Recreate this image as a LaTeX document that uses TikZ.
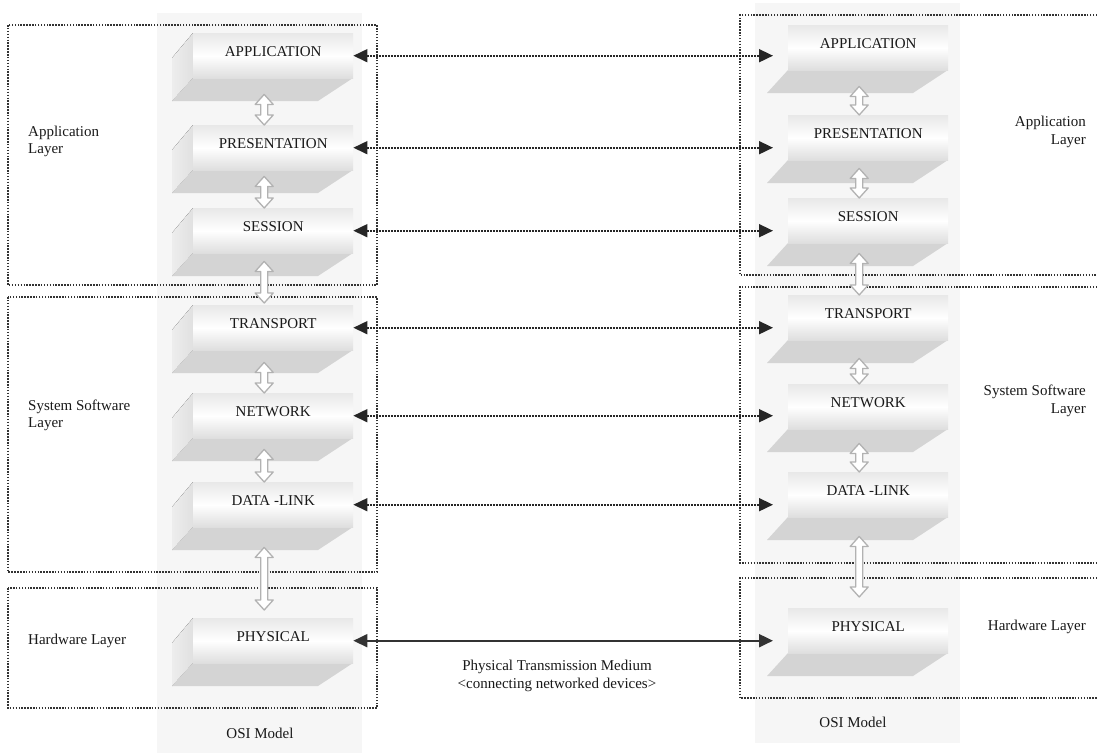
\documentclass[tikz,border=0pt]{standalone}
\usepackage{fontspec}
\setmainfont{Liberation Serif}
\usetikzlibrary{arrows.meta,calc}

\tikzset{
  panel/.style={fill=gray!7, draw=none},
  layerbox/.style={draw=black!80, line width=1.6pt, dash pattern=on 1.5pt off 1.4pt},
  front/.style={rectangle, minimum width=160pt, minimum height=45pt, inner sep=0pt,
    top color=gray!18, bottom color=gray!26, middle color=white,
    text=black!90, font=\fontsize{15}{18}\selectfont, text height=9.6pt, text depth=8pt},
  underside/.style={fill=gray!34},
  sideface/.style={left color=gray!14, right color=gray!24},
  peer/.style={draw=black!85, line width=1.7pt, dash pattern=on 1.6pt off 1.4pt,
    {Triangle[length=14pt,width=13pt]}-{Triangle[length=14pt,width=13pt]}},
  medium/.style={draw=black!80, line width=2pt,
    {Triangle[length=14pt,width=13pt]}-{Triangle[length=14pt,width=13pt]}},
  hollow/.style={draw=gray!60, fill=white, line width=1.3pt, line join=round},
  caption/.style={font=\fontsize{15}{17.5}\selectfont, text=black!90, inner sep=0pt},
}

% one layer slab: #1 name, #2 left x of front face, #3 top y, #4 text, #5 = 1 draws the left face
\newcommand\osiblock[5]{%
  \ifnum#5=1
    \fill[sideface] (#2,#3) -- (#2-21,#3+25) -- (#2-21,#3+68) -- (#2,#3+45) -- cycle;
  \fi
  \fill[underside] (#2,#3+45) -- (#2+160,#3+45) -- (#2+125,#3+68) -- (#2-21,#3+68) -- cycle;
  \node[front, anchor=north west] (#1) at (#2,#3) {#4};
}

% hollow double arrow between two stacked slabs: #1 upper, #2 lower, #3 gap below upper, #4 gap above lower
\newcommand\hollowlink[4]{%
  \draw[hollow] let \p1=([xshift=-9pt,yshift=-#3pt]#1.south),
                    \p2=([xshift=-9pt,yshift=#4pt]#2.north) in
    (\x1,\y1) -- (\x1+9pt,\y1-10pt) -- (\x1+3.5pt,\y1-10pt) -- (\x1+3.5pt,\y2+10pt)
    -- (\x1+9pt,\y2+10pt) -- (\x1,\y2) -- (\x1-9pt,\y2+10pt) -- (\x1-3.5pt,\y2+10pt)
    -- (\x1-3.5pt,\y1-10pt) -- (\x1-9pt,\y1-10pt) -- cycle;
}

\begin{document}
\begin{tikzpicture}[x=1pt,y=-1pt]
\useasboundingbox (0,0) rectangle (1097,753);
\fill[white] (0,0) rectangle (1097,753);

% stack backgrounds
\fill[panel] (157,13) rectangle (362,753);
\fill[panel] (755,3) rectangle (960,743);

% layer groupings, left host
\draw[layerbox] (8,25) rectangle (377,285);
\draw[layerbox] (8,297) rectangle (377,572);
\draw[layerbox] (8,588) rectangle (377,708);

% layer groupings, right host (open towards the right edge)
\draw[layerbox] (1100,15) -- (740,15) -- (740,275) -- (1100,275);
\draw[layerbox] (1100,287) -- (740,287) -- (740,563) -- (1100,563);
\draw[layerbox] (1100,578) -- (740,578) -- (740,698) -- (1100,698);

% left stack
\osiblock{appL}{193}{33}{APPLICATION}{1}
\osiblock{preL}{193}{125}{PRESENTATION}{1}
\osiblock{sesL}{193}{208}{SESSION}{1}
\osiblock{traL}{193}{305}{TRANSPORT}{1}
\osiblock{netL}{193}{393}{NETWORK}{1}
\osiblock{dlkL}{193}{482}{DATA -LINK}{1}
\osiblock{phyL}{193}{618}{PHYSICAL}{1}

% right stack
\osiblock{appR}{788}{25}{APPLICATION}{0}
\osiblock{preR}{788}{115}{PRESENTATION}{0}
\osiblock{sesR}{788}{198}{SESSION}{0}
\osiblock{traR}{788}{295}{TRANSPORT}{0}
\osiblock{netR}{788}{384}{NETWORK}{0}
\osiblock{dlkR}{788}{472}{DATA -LINK}{0}
\osiblock{phyR}{788}{608}{PHYSICAL}{0}

% interfaces between adjacent layers
\hollowlink{appL}{preL}{16}{0}
\hollowlink{preL}{sesL}{6}{0}
\hollowlink{sesL}{traL}{8}{2}
\hollowlink{traL}{netL}{12}{0}
\hollowlink{netL}{dlkL}{11}{0}
\hollowlink{dlkL}{phyL}{20}{8}

\hollowlink{appR}{preR}{16}{0}
\hollowlink{preR}{sesR}{8}{0}
\hollowlink{sesR}{traR}{10}{0}
\hollowlink{traR}{netR}{18}{0}
\hollowlink{netR}{dlkR}{14}{0}
\hollowlink{dlkR}{phyR}{19}{11}

% peer-to-peer communication
\foreach \l in {app,pre,ses,tra,net,dlk}{
  \draw[peer] (\l L.east) -- ($(\l L.east -| \l R.west)+(-15pt,0)$);
}
\draw[medium] (phyL.east) -- ($(phyL.east -| phyR.west)+(-15pt,0)$);

% captions
\node[caption, anchor=west, align=left] (lblAppL) at (28,141.5) {Application\\Layer};
\node[caption, anchor=west, align=left] (lblSysL) at (28,415.5) {System Software\\Layer};
\node[caption, anchor=west] (lblHwL) at (28,641) {Hardware Layer};

\node[caption, anchor=east, align=right] (lblAppR) at (1086,132) {Application\\Layer};
\node[caption, anchor=east, align=right] (lblSysR) at (1086,401) {System Software\\Layer};
\node[caption, anchor=east] (lblHwR) at (1086,627) {Hardware Layer};

\node[caption, align=center] (mediumLbl) at (557,676) {Physical Transmission Medium\\<connecting networked devices>};

\node[caption] (osiL) at (260,733) {OSI Model};
\node[caption] (osiR) at (853,722) {OSI Model};
\end{tikzpicture}
\end{document}
